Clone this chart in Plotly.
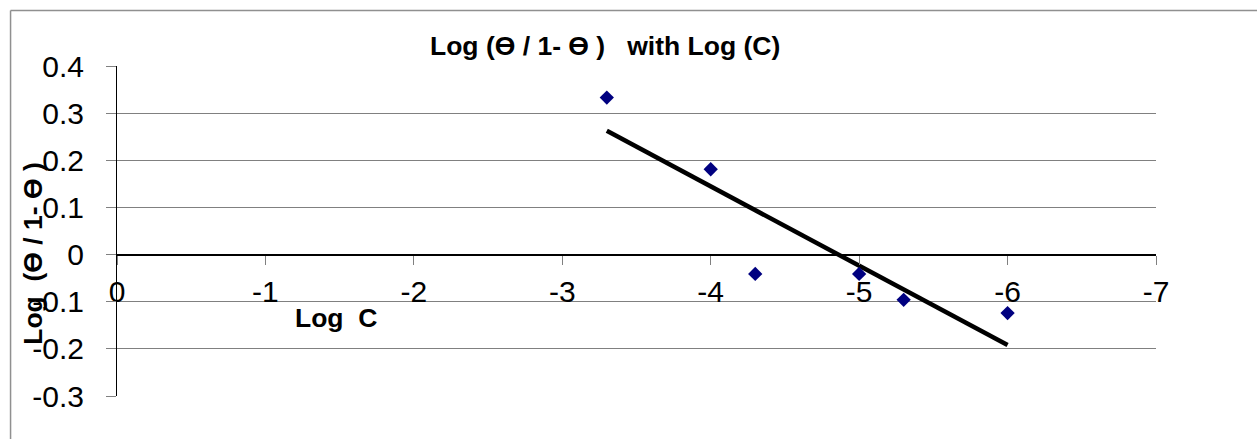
import numpy as np
import plotly.graph_objects as go

# ---- data ----
log_c = [-3.3, -4.0, -4.3, -5.0, -5.3, -6.0]
log_theta = [0.333, 0.181, -0.041, -0.041, -0.096, -0.124]
x_ticks = [0, -1, -2, -3, -4, -5, -6, -7]
x_tick_text = ["0", "-1", "-2", "-3", "-4", "-5", "-6", "-7"]
y_ticks = [-0.3, -0.2, -0.1, 0, 0.1, 0.2, 0.3, 0.4]
y_tick_text = ["-0.3", "-0.2", "-0.1", "0", "0.1", "0.2", "0.3", "0.4"]
chart_title = "Log (Ө / 1- Ө )   with Log (C)"
x_title = "Log  C"
y_title = "Log  (Ө / 1- Ө )"

W, H = 1257, 439
L, R, T, B = 116.5, 101, 65.5, 43
PW, PH = W - L - R, H - T - B

def px(x):
    return (x - L) / PW

def py(y):
    return (H - B - y) / PH

FONT = "Liberation Sans, Arial, sans-serif"

# linear trendline through the points
slope, intercept = np.polyfit(log_c, log_theta, 1)
tx = [max(log_c), min(log_c)]
ty = [slope * v + intercept for v in tx]

fig = go.Figure()
fig.add_trace(go.Scatter(
    x=tx, y=ty, mode="lines",
    line=dict(color="black", width=4.5),
    showlegend=False,
))
fig.add_trace(go.Scatter(
    x=log_c, y=log_theta, mode="markers",
    marker=dict(symbol="diamond", size=11, color="#000080", line=dict(width=0)),
    showlegend=False,
))

ymin, ymax = -0.3, 0.4
fig.update_layout(
    width=W, height=H,
    margin=dict(l=L, r=R, t=T, b=B, pad=0),
    paper_bgcolor="white", plot_bgcolor="white",
    font=dict(family=FONT, color="black"),
    xaxis=dict(
        range=[0, -7], tickmode="array", tickvals=x_ticks, ticktext=x_tick_text,
        showgrid=False, zeroline=False,
        showline=True, linecolor="black", linewidth=1,
        anchor="free", position=(0 - ymin) / (ymax - ymin),
        ticks="outside", ticklen=9, tickcolor="#808080", tickwidth=1,
        tickfont=dict(size=30, family=FONT, color="black"),
        ticklabelstandoff=1,
        automargin=False,
    ),
    yaxis=dict(
        range=[ymin, ymax], tickmode="array", tickvals=y_ticks, ticktext=y_tick_text,
        showgrid=True, gridcolor="#808080", gridwidth=1,
        zeroline=True, zerolinecolor="black", zerolinewidth=1,
        showline=True, linecolor="black", linewidth=1,
        ticks="outside", ticklen=10, tickcolor="#808080", tickwidth=1,
        tickfont=dict(size=30, family=FONT, color="black"),
        ticklabelstandoff=16,
        automargin=False,
    ),
    annotations=[
        dict(text="<b>" + chart_title + "</b>", xref="paper", yref="paper",
             x=px(605), y=py(45), xanchor="center", yanchor="middle",
             showarrow=False, font=dict(size=26.5, family=FONT, color="black")),
        dict(text="<b>" + x_title + "</b>", xref="paper", yref="paper",
             x=px(336), y=py(318), xanchor="center", yanchor="middle",
             showarrow=False, font=dict(size=26.5, family=FONT, color="black")),
        dict(text="<b>" + y_title + "</b>", xref="paper", yref="paper",
             x=px(33), y=py(253), xanchor="center", yanchor="middle",
             textangle=-90,
             showarrow=False, font=dict(size=26.5, family=FONT, color="black")),
    ],
    shapes=[
        dict(type="line", xref="paper", yref="paper",
             x0=px(10), x1=px(W + 5), y0=py(10), y1=py(10),
             line=dict(color="#909090", width=1.5)),
        dict(type="line", xref="paper", yref="paper",
             x0=px(10), x1=px(10), y0=py(10), y1=py(H + 5),
             line=dict(color="#909090", width=1.5)),
    ],
)

fig.write_html("out.html")
